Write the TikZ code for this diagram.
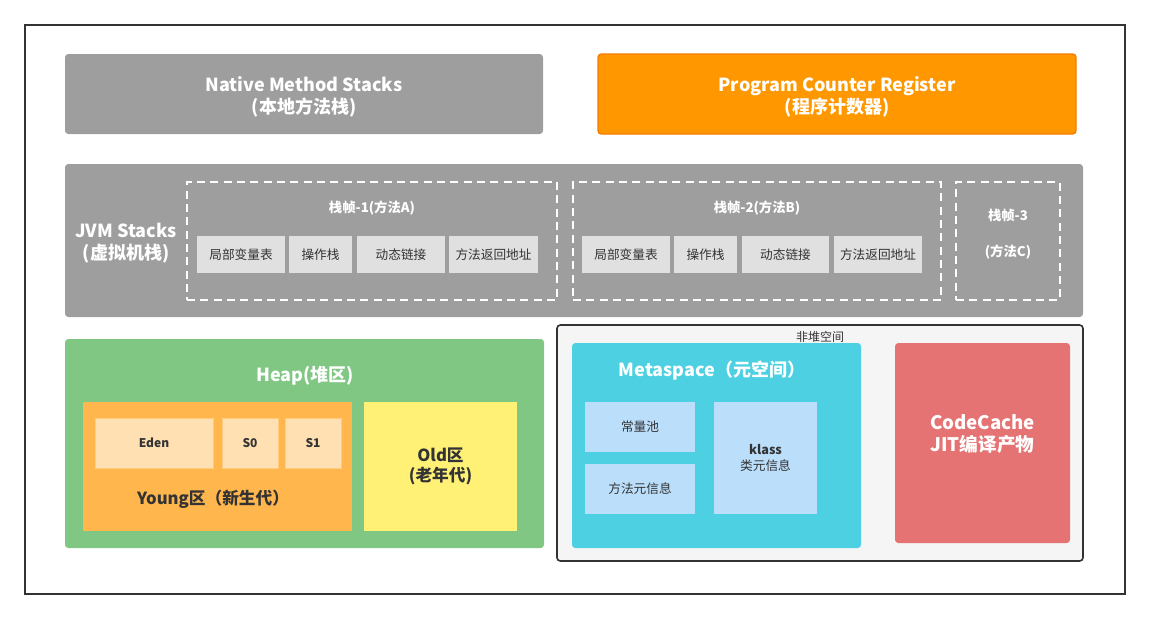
\documentclass[tikz,border=0pt]{standalone}
\usepackage{fontspec}
\setmainfont{Noto Sans CJK SC}
\usepackage{tikz}
\usetikzlibrary{positioning}

\definecolor{boxgray}{HTML}{9E9E9E}
\definecolor{cellgray}{HTML}{E0E0E0}
\definecolor{pcorange}{HTML}{FF9800}
\definecolor{pcedge}{HTML}{F57C00}
\definecolor{heapgreen}{HTML}{81C784}
\definecolor{youngorange}{HTML}{FFB74D}
\definecolor{edenfill}{HTML}{FFE0B2}
\definecolor{edenedge}{HTML}{FFCC80}
\definecolor{oldyellow}{HTML}{FFF176}
\definecolor{metacyan}{HTML}{4DD0E1}
\definecolor{metablue}{HTML}{BBDEFB}
\definecolor{codered}{HTML}{E57373}
\definecolor{nonheapbg}{HTML}{F5F5F5}
\definecolor{darktext}{HTML}{333333}

\tikzset{
  wh/.style 2 args={minimum width=#1*0.75pt,minimum height=#2*0.75pt},
  area/.style={inner sep=0pt,outer sep=0pt,rounded corners=2.5pt,align=center},
  bigtext/.style={text=white,font=\bfseries\fontsize{13}{15.5}\selectfont,align=center},
  frame/.style={draw=white,line width=1.5pt,dash pattern=on 6pt off 4pt,inner sep=0pt,outer sep=0pt},
  cell/.style={fill=cellgray,inner sep=0pt,text=darktext,font=\fontsize{9.5}{11}\selectfont},
  frametitle/.style={text=white,font=\bfseries\fontsize{10}{12}\selectfont,align=center},
  part/.style={inner sep=0pt,text=darktext,align=center},
}

\begin{document}
\begin{tikzpicture}[x=0.75pt,y=-0.75pt]
  \useasboundingbox (0,0) rectangle (1150,619);
  \node [draw=darktext,line width=1.5pt,inner sep=0pt,wh={1100}{569}] (outer) at (575,309.5) {};

  % top row
  \node [area,fill=boxgray,wh={478}{80}] (native) at (304,94) {};
  \node [bigtext,font=\bfseries\fontsize{13.5}{16.5}\selectfont] (nativetxt) at (304,96.5) {Native Method Stacks\\(本地方法栈)};
  \node [area,fill=pcorange,draw=pcedge,line width=1pt,wh={478}{80}] (pcr) at (837,94) {};
  \node [bigtext,font=\bfseries\fontsize{13.5}{16.5}\selectfont] (pcrtxt) at (837,96.5) {Program Counter Register\\(程序计数器)};

  % jvm stacks
  \node [area,fill=boxgray,wh={1018}{153}] (jvm) at (574,240.5) {};
  \node [bigtext,font=\bfseries\fontsize{13.5}{16}\selectfont] (jvmtxt) at (126,243) {JVM Stacks\\(虚拟机栈)};

  \node [frame,wh={370}{118}] (frame1) at (372,241) {};
  \node [frametitle] (title1) at (372,208) {栈帧-1(方法A)};
  \node [cell,wh={88}{37}] (lv1) at (241,254.5) {局部变量表};
  \node [cell,wh={63}{37}] (op1) at (320.5,254.5) {操作栈};
  \node [cell,wh={88}{37}] (dl1) at (401,254.5) {动态链接};
  \node [cell,wh={89}{37}] (ra1) at (493.5,254.5) {方法返回地址};

  \node [frame,wh={368}{118}] (frame2) at (757,241) {};
  \node [frametitle] (title2) at (757,208) {栈帧-2(方法B)};
  \node [cell,wh={88}{37}] (lv2) at (626,254.5) {局部变量表};
  \node [cell,wh={63}{37}] (op2) at (705.5,254.5) {操作栈};
  \node [cell,wh={87}{37}] (dl2) at (785.5,254.5) {动态链接};
  \node [cell,wh={88}{37}] (ra2) at (878,254.5) {方法返回地址};

  \node [frame,wh={104}{118}] (frame3) at (1008,241) {};
  \node [frametitle] (title3) at (1008,215) {栈帧-3};
  \node [frametitle] (method3) at (1008,252) {(方法C)};

  % heap
  \node [area,fill=heapgreen,wh={479}{209}] (heap) at (304.5,443.5) {};
  \node [bigtext,font=\bfseries\fontsize{13.5}{16}\selectfont] (heaptxt) at (305,376) {Heap(堆区)};
  \node [part,fill=youngorange,wh={269}{129}] (young) at (217.5,466.5) {};
  \node [part,font=\bfseries\fontsize{12.5}{14}\selectfont] (youngtxt) at (213,499) {Young区（新生代）};
  \node [part,fill=edenfill,draw=edenedge,line width=0.75pt,wh={118}{50},font=\bfseries\fontsize{9}{11}\selectfont] (eden) at (154,443) {Eden};
  \node [part,fill=edenfill,draw=edenedge,line width=0.75pt,wh={56}{50},font=\bfseries\fontsize{9}{11}\selectfont] (s0) at (250,443) {S0};
  \node [part,fill=edenfill,draw=edenedge,line width=0.75pt,wh={56}{50},font=\bfseries\fontsize{9}{11}\selectfont] (s1) at (313,443) {S1};
  \node [part,fill=oldyellow,wh={153}{129},font=\bfseries\fontsize{12.5}{15}\selectfont] (old) at (440.5,466.5) {Old区\\(老年代)};

  % non heap
  \node [area,fill=nonheapbg,draw=darktext,line width=1.2pt,wh={526}{236}] (nonheap) at (820,443) {};
  \node [part,font=\fontsize{9}{11}\selectfont] (nonheaptxt) at (820,337) {非堆空间};
  \node [area,fill=metacyan,wh={289}{205}] (meta) at (716.5,445.5) {};
  \node [bigtext,font=\bfseries\fontsize{13.5}{16}\selectfont] (metatxt) at (712,371) {Metaspace（元空间）};
  \node [part,fill=metablue,wh={110}{50},font=\fontsize{9.5}{11}\selectfont] (pool) at (640,427) {常量池};
  \node [part,fill=metablue,wh={110}{50},font=\fontsize{9.5}{11}\selectfont] (methodinfo) at (640,489) {方法元信息};
  \node [part,fill=metablue,wh={103}{112},font=\fontsize{9.5}{12}\selectfont] (klass) at (765.5,458) {\textbf{klass}\\类元信息};
  \node [area,fill=codered,wh={175}{200}] (code) at (982.5,443) {};
  \node [bigtext,font=\bfseries\fontsize{14}{16.5}\selectfont] (codetxt) at (982.5,434) {CodeCache\\JIT编译产物};
\end{tikzpicture}
\end{document}
